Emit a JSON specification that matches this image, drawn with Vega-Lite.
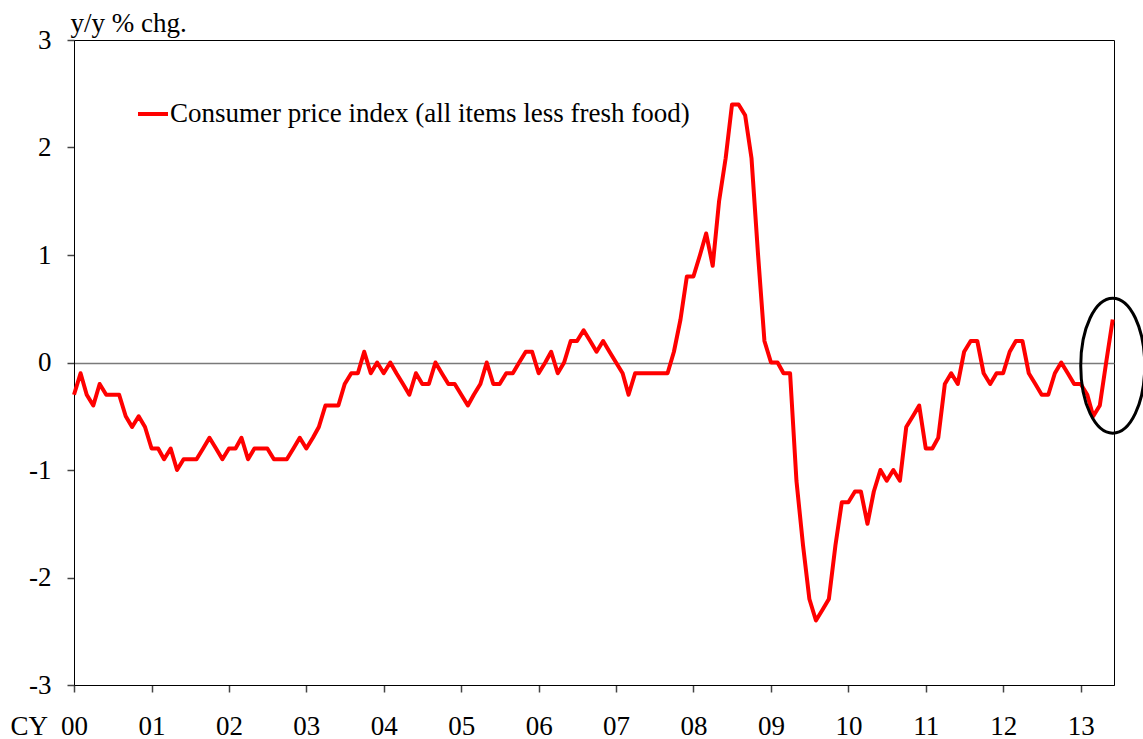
{
  "$schema": "https://vega.github.io/schema/vega-lite/v6.json",
  "width": 1040,
  "height": 645,
  "autosize": {"type": "none"},
  "padding": {"left": 74, "top": 40, "right": 29, "bottom": 54},
  "background": "white",
  "config": {
    "font": "Liberation Serif",
    "view": {"stroke": "black", "strokeWidth": 1},
    "axis": {
      "labelFont": "Liberation Serif",
      "titleFont": "Liberation Serif",
      "labelFontSize": 27,
      "titleFontSize": 27,
      "labelColor": "black",
      "titleColor": "black",
      "titleFontWeight": "normal",
      "domainColor": "black",
      "domainWidth": 1,
      "tickColor": "#444",
      "tickWidth": 1.5,
      "tickSize": 7,
      "grid": false
    }
  },
  "datasets": {
    "cpi": [
      {"date": "2000-01-01", "v": -0.3}, {"date": "2000-02-01", "v": -0.1}, {"date": "2000-03-01", "v": -0.3}, {"date": "2000-04-01", "v": -0.4},
      {"date": "2000-05-01", "v": -0.2}, {"date": "2000-06-01", "v": -0.3}, {"date": "2000-07-01", "v": -0.3}, {"date": "2000-08-01", "v": -0.3},
      {"date": "2000-09-01", "v": -0.5}, {"date": "2000-10-01", "v": -0.6}, {"date": "2000-11-01", "v": -0.5}, {"date": "2000-12-01", "v": -0.6},
      {"date": "2001-01-01", "v": -0.8}, {"date": "2001-02-01", "v": -0.8}, {"date": "2001-03-01", "v": -0.9}, {"date": "2001-04-01", "v": -0.8},
      {"date": "2001-05-01", "v": -1.0}, {"date": "2001-06-01", "v": -0.9}, {"date": "2001-07-01", "v": -0.9}, {"date": "2001-08-01", "v": -0.9},
      {"date": "2001-09-01", "v": -0.8}, {"date": "2001-10-01", "v": -0.7}, {"date": "2001-11-01", "v": -0.8}, {"date": "2001-12-01", "v": -0.9},
      {"date": "2002-01-01", "v": -0.8}, {"date": "2002-02-01", "v": -0.8}, {"date": "2002-03-01", "v": -0.7}, {"date": "2002-04-01", "v": -0.9},
      {"date": "2002-05-01", "v": -0.8}, {"date": "2002-06-01", "v": -0.8}, {"date": "2002-07-01", "v": -0.8}, {"date": "2002-08-01", "v": -0.9},
      {"date": "2002-09-01", "v": -0.9}, {"date": "2002-10-01", "v": -0.9}, {"date": "2002-11-01", "v": -0.8}, {"date": "2002-12-01", "v": -0.7},
      {"date": "2003-01-01", "v": -0.8}, {"date": "2003-02-01", "v": -0.7}, {"date": "2003-03-01", "v": -0.6}, {"date": "2003-04-01", "v": -0.4},
      {"date": "2003-05-01", "v": -0.4}, {"date": "2003-06-01", "v": -0.4}, {"date": "2003-07-01", "v": -0.2}, {"date": "2003-08-01", "v": -0.1},
      {"date": "2003-09-01", "v": -0.1}, {"date": "2003-10-01", "v": 0.1}, {"date": "2003-11-01", "v": -0.1}, {"date": "2003-12-01", "v": 0.0},
      {"date": "2004-01-01", "v": -0.1}, {"date": "2004-02-01", "v": 0.0}, {"date": "2004-03-01", "v": -0.1}, {"date": "2004-04-01", "v": -0.2},
      {"date": "2004-05-01", "v": -0.3}, {"date": "2004-06-01", "v": -0.1}, {"date": "2004-07-01", "v": -0.2}, {"date": "2004-08-01", "v": -0.2},
      {"date": "2004-09-01", "v": 0.0}, {"date": "2004-10-01", "v": -0.1}, {"date": "2004-11-01", "v": -0.2}, {"date": "2004-12-01", "v": -0.2},
      {"date": "2005-01-01", "v": -0.3}, {"date": "2005-02-01", "v": -0.4}, {"date": "2005-03-01", "v": -0.3}, {"date": "2005-04-01", "v": -0.2},
      {"date": "2005-05-01", "v": 0.0}, {"date": "2005-06-01", "v": -0.2}, {"date": "2005-07-01", "v": -0.2}, {"date": "2005-08-01", "v": -0.1},
      {"date": "2005-09-01", "v": -0.1}, {"date": "2005-10-01", "v": 0.0}, {"date": "2005-11-01", "v": 0.1}, {"date": "2005-12-01", "v": 0.1},
      {"date": "2006-01-01", "v": -0.1}, {"date": "2006-02-01", "v": 0.0}, {"date": "2006-03-01", "v": 0.1}, {"date": "2006-04-01", "v": -0.1},
      {"date": "2006-05-01", "v": 0.0}, {"date": "2006-06-01", "v": 0.2}, {"date": "2006-07-01", "v": 0.2}, {"date": "2006-08-01", "v": 0.3},
      {"date": "2006-09-01", "v": 0.2}, {"date": "2006-10-01", "v": 0.1}, {"date": "2006-11-01", "v": 0.2}, {"date": "2006-12-01", "v": 0.1},
      {"date": "2007-01-01", "v": 0.0}, {"date": "2007-02-01", "v": -0.1}, {"date": "2007-03-01", "v": -0.3}, {"date": "2007-04-01", "v": -0.1},
      {"date": "2007-05-01", "v": -0.1}, {"date": "2007-06-01", "v": -0.1}, {"date": "2007-07-01", "v": -0.1}, {"date": "2007-08-01", "v": -0.1},
      {"date": "2007-09-01", "v": -0.1}, {"date": "2007-10-01", "v": 0.1}, {"date": "2007-11-01", "v": 0.4}, {"date": "2007-12-01", "v": 0.8},
      {"date": "2008-01-01", "v": 0.8}, {"date": "2008-02-01", "v": 1.0}, {"date": "2008-03-01", "v": 1.2}, {"date": "2008-04-01", "v": 0.9},
      {"date": "2008-05-01", "v": 1.5}, {"date": "2008-06-01", "v": 1.9}, {"date": "2008-07-01", "v": 2.4}, {"date": "2008-08-01", "v": 2.4},
      {"date": "2008-09-01", "v": 2.3}, {"date": "2008-10-01", "v": 1.9}, {"date": "2008-11-01", "v": 1.0}, {"date": "2008-12-01", "v": 0.2},
      {"date": "2009-01-01", "v": 0.0}, {"date": "2009-02-01", "v": 0.0}, {"date": "2009-03-01", "v": -0.1}, {"date": "2009-04-01", "v": -0.1},
      {"date": "2009-05-01", "v": -1.1}, {"date": "2009-06-01", "v": -1.7}, {"date": "2009-07-01", "v": -2.2}, {"date": "2009-08-01", "v": -2.4},
      {"date": "2009-09-01", "v": -2.3}, {"date": "2009-10-01", "v": -2.2}, {"date": "2009-11-01", "v": -1.7}, {"date": "2009-12-01", "v": -1.3},
      {"date": "2010-01-01", "v": -1.3}, {"date": "2010-02-01", "v": -1.2}, {"date": "2010-03-01", "v": -1.2}, {"date": "2010-04-01", "v": -1.5},
      {"date": "2010-05-01", "v": -1.2}, {"date": "2010-06-01", "v": -1.0}, {"date": "2010-07-01", "v": -1.1}, {"date": "2010-08-01", "v": -1.0},
      {"date": "2010-09-01", "v": -1.1}, {"date": "2010-10-01", "v": -0.6}, {"date": "2010-11-01", "v": -0.5}, {"date": "2010-12-01", "v": -0.4},
      {"date": "2011-01-01", "v": -0.8}, {"date": "2011-02-01", "v": -0.8}, {"date": "2011-03-01", "v": -0.7}, {"date": "2011-04-01", "v": -0.2},
      {"date": "2011-05-01", "v": -0.1}, {"date": "2011-06-01", "v": -0.2}, {"date": "2011-07-01", "v": 0.1}, {"date": "2011-08-01", "v": 0.2},
      {"date": "2011-09-01", "v": 0.2}, {"date": "2011-10-01", "v": -0.1}, {"date": "2011-11-01", "v": -0.2}, {"date": "2011-12-01", "v": -0.1},
      {"date": "2012-01-01", "v": -0.1}, {"date": "2012-02-01", "v": 0.1}, {"date": "2012-03-01", "v": 0.2}, {"date": "2012-04-01", "v": 0.2},
      {"date": "2012-05-01", "v": -0.1}, {"date": "2012-06-01", "v": -0.2}, {"date": "2012-07-01", "v": -0.3}, {"date": "2012-08-01", "v": -0.3},
      {"date": "2012-09-01", "v": -0.1}, {"date": "2012-10-01", "v": 0.0}, {"date": "2012-11-01", "v": -0.1}, {"date": "2012-12-01", "v": -0.2},
      {"date": "2013-01-01", "v": -0.2}, {"date": "2013-02-01", "v": -0.3}, {"date": "2013-03-01", "v": -0.5}, {"date": "2013-04-01", "v": -0.4},
      {"date": "2013-05-01", "v": 0.0}, {"date": "2013-06-01", "v": 0.4}
    ],
    "highlight": [{"date": "2013-06-01", "v": -0.03}]
  },
  "encoding": {
    "x": {
      "field": "date",
      "type": "temporal",
      "scale": {
        "type": "utc",
        "domain": [
          {"year": 2000, "month": 1, "date": 1, "utc": true},
          {"year": 2013, "month": 6, "date": 7, "utc": true}
        ]
      },
      "axis": {
        "values": [
          {"year": 2000, "month": 1, "date": 1, "utc": true},
          {"year": 2001, "month": 1, "date": 1, "utc": true},
          {"year": 2002, "month": 1, "date": 1, "utc": true},
          {"year": 2003, "month": 1, "date": 1, "utc": true},
          {"year": 2004, "month": 1, "date": 1, "utc": true},
          {"year": 2005, "month": 1, "date": 1, "utc": true},
          {"year": 2006, "month": 1, "date": 1, "utc": true},
          {"year": 2007, "month": 1, "date": 1, "utc": true},
          {"year": 2008, "month": 1, "date": 1, "utc": true},
          {"year": 2009, "month": 1, "date": 1, "utc": true},
          {"year": 2010, "month": 1, "date": 1, "utc": true},
          {"year": 2011, "month": 1, "date": 1, "utc": true},
          {"year": 2012, "month": 1, "date": 1, "utc": true},
          {"year": 2013, "month": 1, "date": 1, "utc": true}
        ],
        "labelExpr": "utcFormat(datum.value, '%y')",
        "labelFont": "Liberation Serif",
        "labelFontSize": 27,
        "labelFlush": false,
        "labelOverlap": false,
        "labelBound": false,
        "labelBaseline": "alphabetic",
        "labelPadding": 42,
        "title": "CY",
        "titleFont": "Liberation Serif",
        "titleFontSize": 27,
        "titleAlign": "left",
        "titleAnchor": "start",
        "titleBaseline": "alphabetic",
        "titleX": -64,
        "titleY": 49
      }
    },
    "y": {
      "field": "v",
      "type": "quantitative",
      "scale": {"domain": [-3, 3], "nice": false, "zero": false},
      "axis": {
        "values": [-3, -2, -1, 0, 1, 2, 3],
        "labelExpr": "datum.value < 0 ? '-' + abs(datum.value) : '' + datum.value",
        "labelFont": "Liberation Serif",
        "labelFontSize": 27,
        "labelPadding": 16,
        "grid": true,
        "gridColor": "#7a7a7a",
        "gridWidth": 1.5,
        "gridOpacity": {"condition": {"test": "datum.value === 0", "value": 1}, "value": 0},
        "title": "y/y % chg.",
        "titleFont": "Liberation Serif",
        "titleFontSize": 27,
        "titleAngle": 0,
        "titleAlign": "left",
        "titleAnchor": "start",
        "titleBaseline": "alphabetic",
        "titleX": -4,
        "titleY": -9
      }
    }
  },
  "layer": [
    {
      "data": {"name": "cpi"},
      "mark": {"type": "line", "strokeWidth": 4, "strokeJoin": "round"},
      "encoding": {
        "color": {
          "datum": "Consumer price index (all items less fresh food)",
          "type": "nominal",
          "scale": {"range": ["#ff0000"]},
          "legend": {
            "orient": "none",
            "legendX": 62,
            "legendY": 57,
            "title": null,
            "padding": 0,
            "symbolType": "stroke",
            "symbolSize": 900,
            "symbolStrokeWidth": 4,
            "labelFont": "Liberation Serif",
            "labelFontSize": 27,
            "labelColor": "black",
            "labelOffset": 0,
            "labelLimit": 1000
          }
        }
      }
    },
    {
      "data": {"name": "highlight"},
      "mark": {
        "type": "point",
        "shape": "M0,-1A0.474,1,0,1,1,0,1A0.474,1,0,1,1,0,-1Z",
        "size": 18225,
        "filled": false,
        "stroke": "black",
        "strokeWidth": 3,
        "opacity": 1
      }
    }
  ]
}
